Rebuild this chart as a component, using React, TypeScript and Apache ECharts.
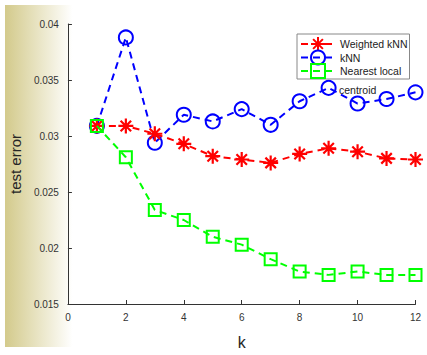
import React, { useEffect, useRef } from "react";
import * as echarts from "echarts";

const kValues = [1, 2, 3, 4, 5, 6, 7, 8, 9, 10, 11, 12];
const weightedKnn = [0.0309, 0.0309, 0.0302, 0.0293, 0.0282, 0.0279, 0.0276, 0.0284, 0.0289, 0.0286, 0.028, 0.0279];
const knn = [0.0309, 0.0388, 0.0294, 0.0319, 0.0313, 0.0324, 0.031, 0.0331, 0.0343, 0.0329, 0.0333, 0.0339];
const nearestLocalCentroid = [0.0309, 0.0281, 0.0234, 0.0225, 0.021, 0.0203, 0.019, 0.0179, 0.0176, 0.0179, 0.0176, 0.0176];

const STAR = "path://M0,5L10,5M5,0L5,10M1.5,1.5L8.5,8.5M1.5,8.5L8.5,1.5";
const FONT = "Liberation Sans, Arial, sans-serif";

export default function App() {
  const ref = useRef<HTMLDivElement>(null);
  useEffect(() => {
    if (!ref.current) return;
    const chart = echarts.init(ref.current, undefined, { renderer: "svg" });
    const mk = (vals: number[]) => vals.map((v, i) => [kValues[i], v]);
    const dash = [7, 5];
    chart.setOption({
      animation: false,
      backgroundColor: "#ffffff",
      textStyle: { fontFamily: FONT },
      graphic: [
        {
          type: "rect",
          z: -10,
          silent: true,
          shape: { x: 5, y: 5, width: 422, height: 342 },
          style: {
            fill: new echarts.graphic.LinearGradient(0, 0, 1, 0, [
              { offset: 0, color: "#d3ca8b" },
              { offset: 0.16, color: "#ffffff" },
              { offset: 1, color: "#ffffff" },
            ]),
          },
        },
        {
          type: "text",
          left: 339,
          top: 84,
          z: 100,
          style: { text: "centroid", fontSize: 10.5, fontFamily: FONT, fill: "#222" },
        },
      ],
      grid: { left: 63.5, right: 11.5, top: 24, bottom: 42, containLabel: false },
      legend: {
        left: 297,
        top: 34,
        orient: "vertical",
        data: ["Weighted kNN", "kNN", "Nearest local centroid"],
        itemWidth: 34,
        itemHeight: 17.5,
        itemGap: -2.5,
        padding: [2, 2, 0, 3],
        borderColor: "#888",
        borderWidth: 1,
        backgroundColor: "#fff",
        formatter: (n: string) => (n === "Nearest local centroid" ? "Nearest local" : n),
        textStyle: { fontSize: 10.5, fontFamily: FONT, color: "#222" },
      },
      xAxis: {
        type: "value",
        min: 0,
        max: 12,
        interval: 2,
        name: "k",
        nameLocation: "middle",
        nameGap: 30,
        nameTextStyle: { fontSize: 16, color: "#262626", fontFamily: FONT },
        axisLine: { lineStyle: { color: "#333", width: 1 } },
        axisTick: { inside: true, length: 4, lineStyle: { color: "#333" } },
        axisLabel: { color: "#333", fontSize: 10, margin: 8 },
        splitLine: { show: false },
      },
      yAxis: {
        type: "value",
        min: 0.015,
        max: 0.04,
        interval: 0.005,
        name: "test error",
        nameLocation: "middle",
        nameGap: 29,
        nameTextStyle: { fontSize: 15, color: "#262626", fontFamily: FONT },
        axisLine: { show: true, lineStyle: { color: "#333", width: 1 } },
        axisTick: { show: true, inside: true, length: 4, lineStyle: { color: "#333" } },
        axisLabel: { color: "#333", fontSize: 10, margin: 9 },
        splitLine: { show: false },
      },
      series: [
        {
          name: "kNN",
          type: "line",
          data: mk(knn),
          symbol: "circle",
          symbolSize: 14,
          lineStyle: { color: "#0000ff", width: 2, type: dash },
          itemStyle: { color: "transparent", borderColor: "#0000ff", borderWidth: 2 },
          z: 2,
        },
        {
          name: "Weighted kNN",
          type: "line",
          data: mk(weightedKnn),
          symbol: STAR,
          symbolSize: 15,
          lineStyle: { color: "#ff0000", width: 2, type: dash },
          itemStyle: { color: "#ff0000", borderColor: "#ff0000", borderWidth: 2.2 },
          z: 3,
        },
        {
          name: "Nearest local centroid",
          type: "line",
          data: mk(nearestLocalCentroid),
          symbol: "rect",
          symbolSize: 12,
          lineStyle: { color: "#00ff00", width: 2, type: dash },
          itemStyle: { color: "transparent", borderColor: "#00ff00", borderWidth: 2 },
          z: 4,
        },
      ],
    });
    return () => chart.dispose();
  }, []);
  return <div ref={ref} style={{ width: 427, height: 355, position: "absolute", left: 0, top: 0 }} />;
}
